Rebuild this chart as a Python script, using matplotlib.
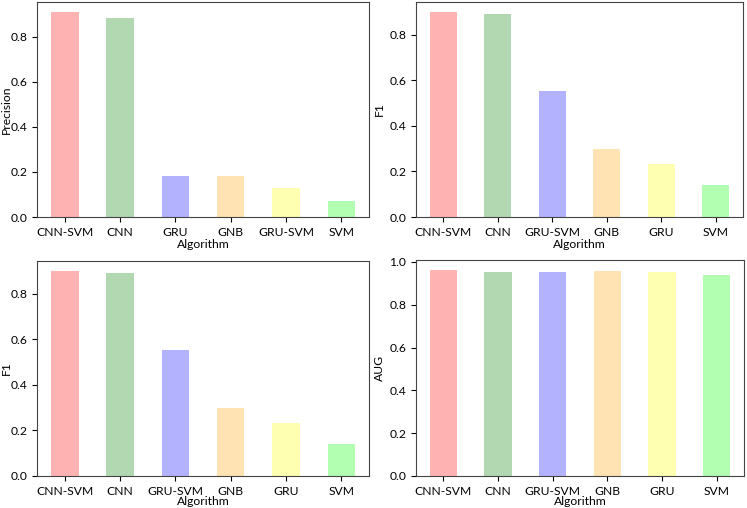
import matplotlib
matplotlib.use("Agg")
import matplotlib.pyplot as plt

plt.rcParams["font.family"] = ["Lato", "DejaVu Sans"]
plt.rcParams["font.size"] = 8.7

COLORS = ["red", "green", "blue", "orange", "yellow", "lime"]

precision_algos = ["CNN-SVM", "CNN", "GRU", "GNB", "GRU-SVM", "SVM"]
precision_vals = [0.908, 0.881, 0.182, 0.181, 0.130, 0.071]

f1_algos = ["CNN-SVM", "CNN", "GRU-SVM", "GNB", "GRU", "SVM"]
f1_vals = [0.898, 0.890, 0.551, 0.297, 0.232, 0.142]

auc_algos = ["CNN-SVM", "CNN", "GRU-SVM", "GNB", "GRU", "SVM"]
auc_vals = [0.961, 0.953, 0.955, 0.959, 0.953, 0.939]

W, H = 747, 508


def rect(left, top, right, bottom):
    return [left / W, 1 - bottom / H, (right - left) / W, (bottom - top) / H]


fig = plt.figure(figsize=(W / 100, H / 100), dpi=100)

# (axes rect, categories, values, y label, y label x in axes coords, x label pad)
panels = [
    (rect(37, 2, 369, 217), precision_algos, precision_vals, "Precision", -0.075, 1),
    (rect(416, 2, 743, 217), f1_algos, f1_vals, "F1", -0.095, 1),
    (rect(37, 261, 369, 476), f1_algos, f1_vals, "F1", -0.075, -0.5),
    (rect(416, 260, 744, 476), auc_algos, auc_vals, "AUG", -0.095, -0.5),
]

for pos, algos, vals, ylab, ylab_x, pad in panels:
    ax = fig.add_axes(pos)
    x = list(range(len(algos)))
    ax.bar(x, vals, width=0.5, color=COLORS, alpha=0.3)
    ax.set_xlim(-0.5, len(algos) - 0.5)
    ax.set_xticks(x)
    ax.set_xticklabels(algos)
    ax.set_ylabel(ylab)
    ax.yaxis.set_label_coords(ylab_x, 0.5)
    ax.set_xlabel("Algorithm", labelpad=pad)
    for s in ax.spines.values():
        s.set_color("#444444")

fig.savefig("out.png", dpi=100)
